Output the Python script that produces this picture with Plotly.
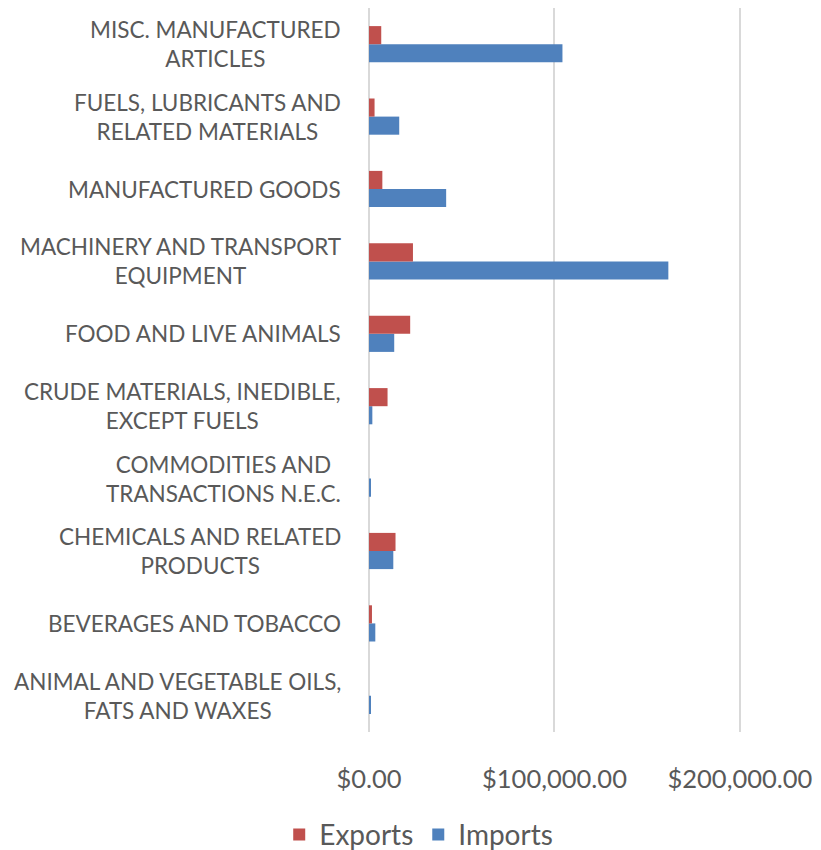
import plotly.graph_objects as go

# categories, bottom to top as drawn
categories = [
    "ANIMAL AND VEGETABLE OILS,<br>FATS AND WAXES",
    "BEVERAGES AND TOBACCO",
    "CHEMICALS AND RELATED<br>PRODUCTS",
    "COMMODITIES AND<br>TRANSACTIONS N.E.C.",
    "CRUDE MATERIALS, INEDIBLE,<br>EXCEPT FUELS",
    "FOOD AND LIVE ANIMALS",
    "MACHINERY AND TRANSPORT<br>EQUIPMENT",
    "MANUFACTURED GOODS",
    "FUELS, LUBRICANTS AND<br>RELATED MATERIALS",
    "MISC. MANUFACTURED<br>ARTICLES",
]
exports = [0, 1600, 14300, 0, 10000, 22200, 23700, 7200, 3000, 6600]
imports = [800, 3400, 13100, 800, 1800, 13600, 161400, 41600, 16300, 104300]

txt = "#595959"
font = "Lato"

fig = go.Figure()
fig.add_trace(go.Bar(y=categories, x=imports, name="Imports", orientation="h",
                     marker=dict(color="#4F81BD", line=dict(width=0)), legendrank=2))
fig.add_trace(go.Bar(y=categories, x=exports, name="Exports", orientation="h",
                     marker=dict(color="#C0504D", line=dict(width=0)), legendrank=1))

# category labels: right-aligned block, lines centred
for c in categories:
    fig.add_annotation(x=-0.058, xref="paper", y=c, yref="y", text=c, showarrow=False,
                       xanchor="right", align="center",
                       font=dict(family=font, size=22.5, color=txt))

# page body has an 8px margin, so the figure is 8px smaller each way
fig.update_layout(
    width=813, height=842,
    barmode="group", bargap=0.5, bargroupgap=0,
    plot_bgcolor="white", paper_bgcolor="white",
    margin=dict(l=361, r=0, t=0, b=118),
    font=dict(family=font, color=txt),
    showlegend=True,
    legend=dict(orientation="h", x=0.11, xanchor="center",
                yref="container", y=0.018, yanchor="middle",
                font=dict(size=28, color=txt), itemwidth=30, traceorder="normal"),
    xaxis=dict(range=[0, 243700], tickvals=[0, 100000, 200000],
               ticktext=["$0.00", "$100,000.00", "$200,000.00"],
               showgrid=True, gridcolor="#D9D9D9", gridwidth=2,
               zeroline=True, zerolinecolor="#D9D9D9", zerolinewidth=2,
               showline=False, ticks="", tickfont=dict(size=25.5, color=txt),
               ticklabelstandoff=29, ticklabeloverflow="allow"),
    yaxis=dict(showticklabels=False, showgrid=False, zeroline=False, showline=False,
               categoryorder="array", categoryarray=categories),
)

fig.write_html("out.html")
